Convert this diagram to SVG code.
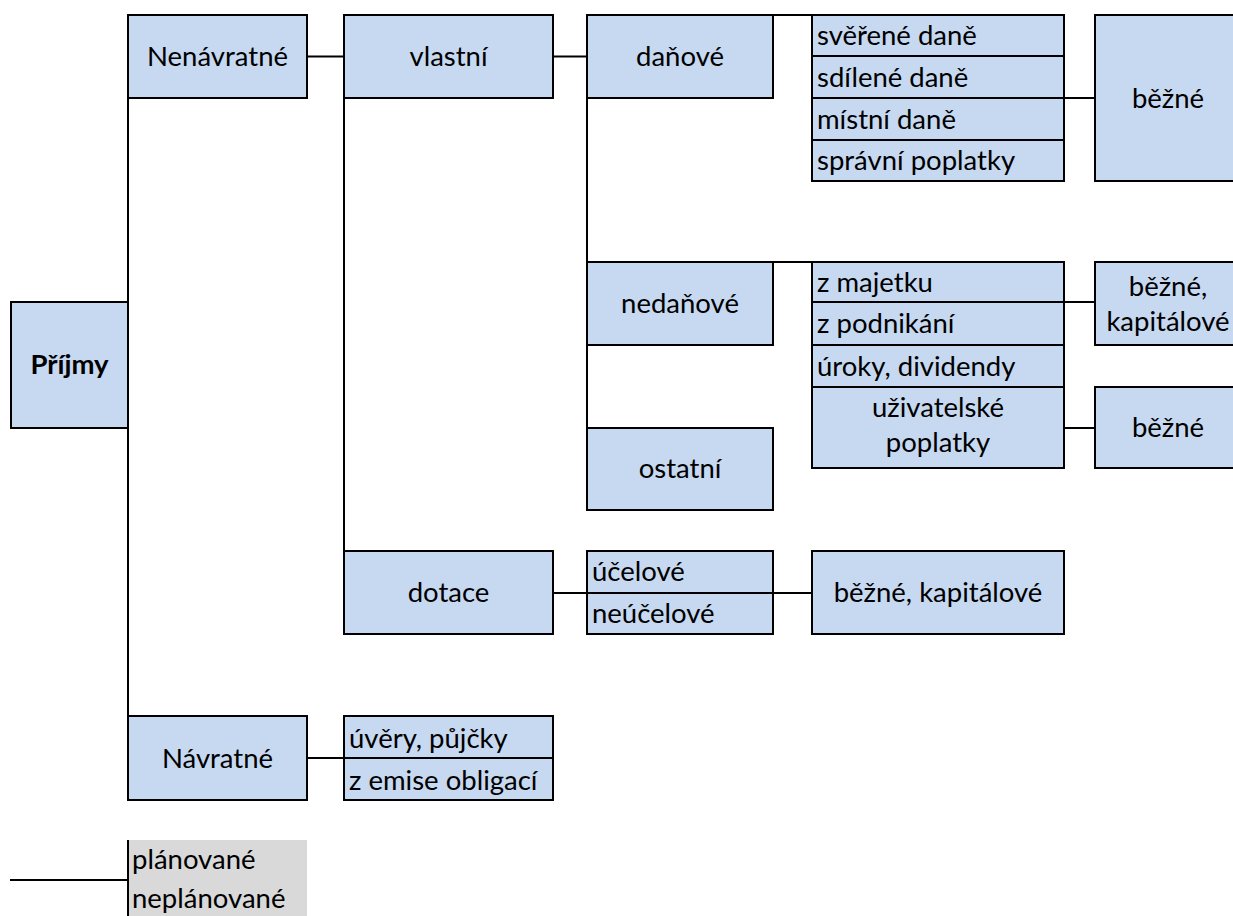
<svg xmlns="http://www.w3.org/2000/svg" width="1233" height="916" viewBox="0 0 1233 916">
<style>
.box{fill:#c6d9f1;stroke:#000;stroke-width:2}
.sep{stroke:#000;stroke-width:2}
#connectors line{stroke:#000;stroke-width:2}
text{font-family:Lato,"Open Sans",sans-serif;font-size:27.5px;fill:#000}
.c{text-anchor:middle}
.b{font-weight:bold}
</style>
<rect width="1233" height="916" fill="#fff"/>
<g id="connectors">
<line x1="128" y1="98" x2="128" y2="716"/>
<line x1="307" y1="56.5" x2="344" y2="56.5"/>
<line x1="344" y1="98" x2="344" y2="551"/>
<line x1="553" y1="56.5" x2="587" y2="56.5"/>
<line x1="587" y1="98" x2="587" y2="428"/>
<line x1="773" y1="15" x2="812" y2="15"/>
<line x1="773" y1="262" x2="812" y2="262"/>
<line x1="1064" y1="98" x2="1095" y2="98"/>
<line x1="1064" y1="302" x2="1095" y2="302"/>
<line x1="1064" y1="428" x2="1095" y2="428"/>
<line x1="553" y1="593" x2="587" y2="593"/>
<line x1="773" y1="593" x2="812" y2="593"/>
<line x1="307" y1="758" x2="344" y2="758"/>
<line x1="10" y1="880" x2="128" y2="880"/>
</g>
<g id="prijmy"><rect class="box" x="11" y="302" width="117" height="126"/><text class="c b" x="69.5" y="374">Příjmy</text></g>
<g id="nenavratne"><rect class="box" x="128" y="15" width="179" height="83"/><text class="c" x="217.5" y="66">Nenávratné</text></g>
<g id="vlastni"><rect class="box" x="344" y="15" width="209" height="83"/><text class="c" x="448.5" y="66">vlastní</text></g>
<g id="danove"><rect class="box" x="587" y="15" width="186" height="83"/><text class="c" x="680" y="66">daňové</text></g>
<g id="danove-list"><rect class="box" x="812" y="15" width="252" height="166"/>
<line class="sep" x1="812" y1="56" x2="1064" y2="56"/><line class="sep" x1="812" y1="98" x2="1064" y2="98"/><line class="sep" x1="812" y1="140" x2="1064" y2="140"/>
<text x="817" y="45">svěřené daně</text><text x="817" y="87">sdílené daně</text><text x="817" y="128.5">místní daně</text><text x="817" y="170">správní poplatky</text></g>
<g id="bezne-1"><rect class="box" x="1095" y="15" width="146" height="166"/><text class="c" x="1168" y="107.5">běžné</text></g>
<g id="nedanove"><rect class="box" x="587" y="262" width="186" height="83"/><text class="c" x="680" y="313">nedaňové</text></g>
<g id="nedanove-list"><rect class="box" x="812" y="262" width="252" height="206"/>
<line class="sep" x1="812" y1="302" x2="1064" y2="302"/><line class="sep" x1="812" y1="345" x2="1064" y2="345"/><line class="sep" x1="812" y1="387" x2="1064" y2="387"/>
<text x="817" y="291.5">z majetku</text><text x="817" y="333">z podnikání</text><text x="817" y="375.5">úroky, dividendy</text>
<text class="c" x="938" y="417">uživatelské</text><text class="c" x="938" y="452">poplatky</text></g>
<g id="bezne-kapitalove-1"><rect class="box" x="1095" y="262" width="146" height="83"/><text class="c" x="1168" y="296">běžné,</text><text class="c" x="1168" y="331">kapitálové</text></g>
<g id="bezne-2"><rect class="box" x="1095" y="387" width="146" height="81"/><text class="c" x="1168" y="437">běžné</text></g>
<g id="ostatni"><rect class="box" x="587" y="428" width="186" height="82"/><text class="c" x="680" y="478">ostatní</text></g>
<g id="dotace"><rect class="box" x="344" y="551" width="209" height="83"/><text class="c" x="448.5" y="602">dotace</text></g>
<g id="ucelove"><rect class="box" x="587" y="551" width="186" height="83"/><line class="sep" x1="587" y1="593" x2="773" y2="593"/>
<text x="592" y="581">účelové</text><text x="592" y="623">neúčelové</text></g>
<g id="bezne-kapitalove-2"><rect class="box" x="812" y="551" width="252" height="83"/><text class="c" x="938" y="602">běžné, kapitálové</text></g>
<g id="navratne"><rect class="box" x="128" y="716" width="179" height="84"/><text class="c" x="217.5" y="768">Návratné</text></g>
<g id="uvery"><rect class="box" x="344" y="716" width="209" height="84"/><line class="sep" x1="344" y1="758" x2="553" y2="758"/>
<text x="349" y="748">úvěry, půjčky</text><text x="349" y="790">z emise obligací</text></g>
<g id="legend"><rect x="128" y="840" width="179" height="76" fill="#d9d9d9"/><line class="sep" x1="128" y1="840" x2="128" y2="916"/>
<text x="132" y="869">plánované</text><text x="132" y="908">neplánované</text></g>
</svg>
